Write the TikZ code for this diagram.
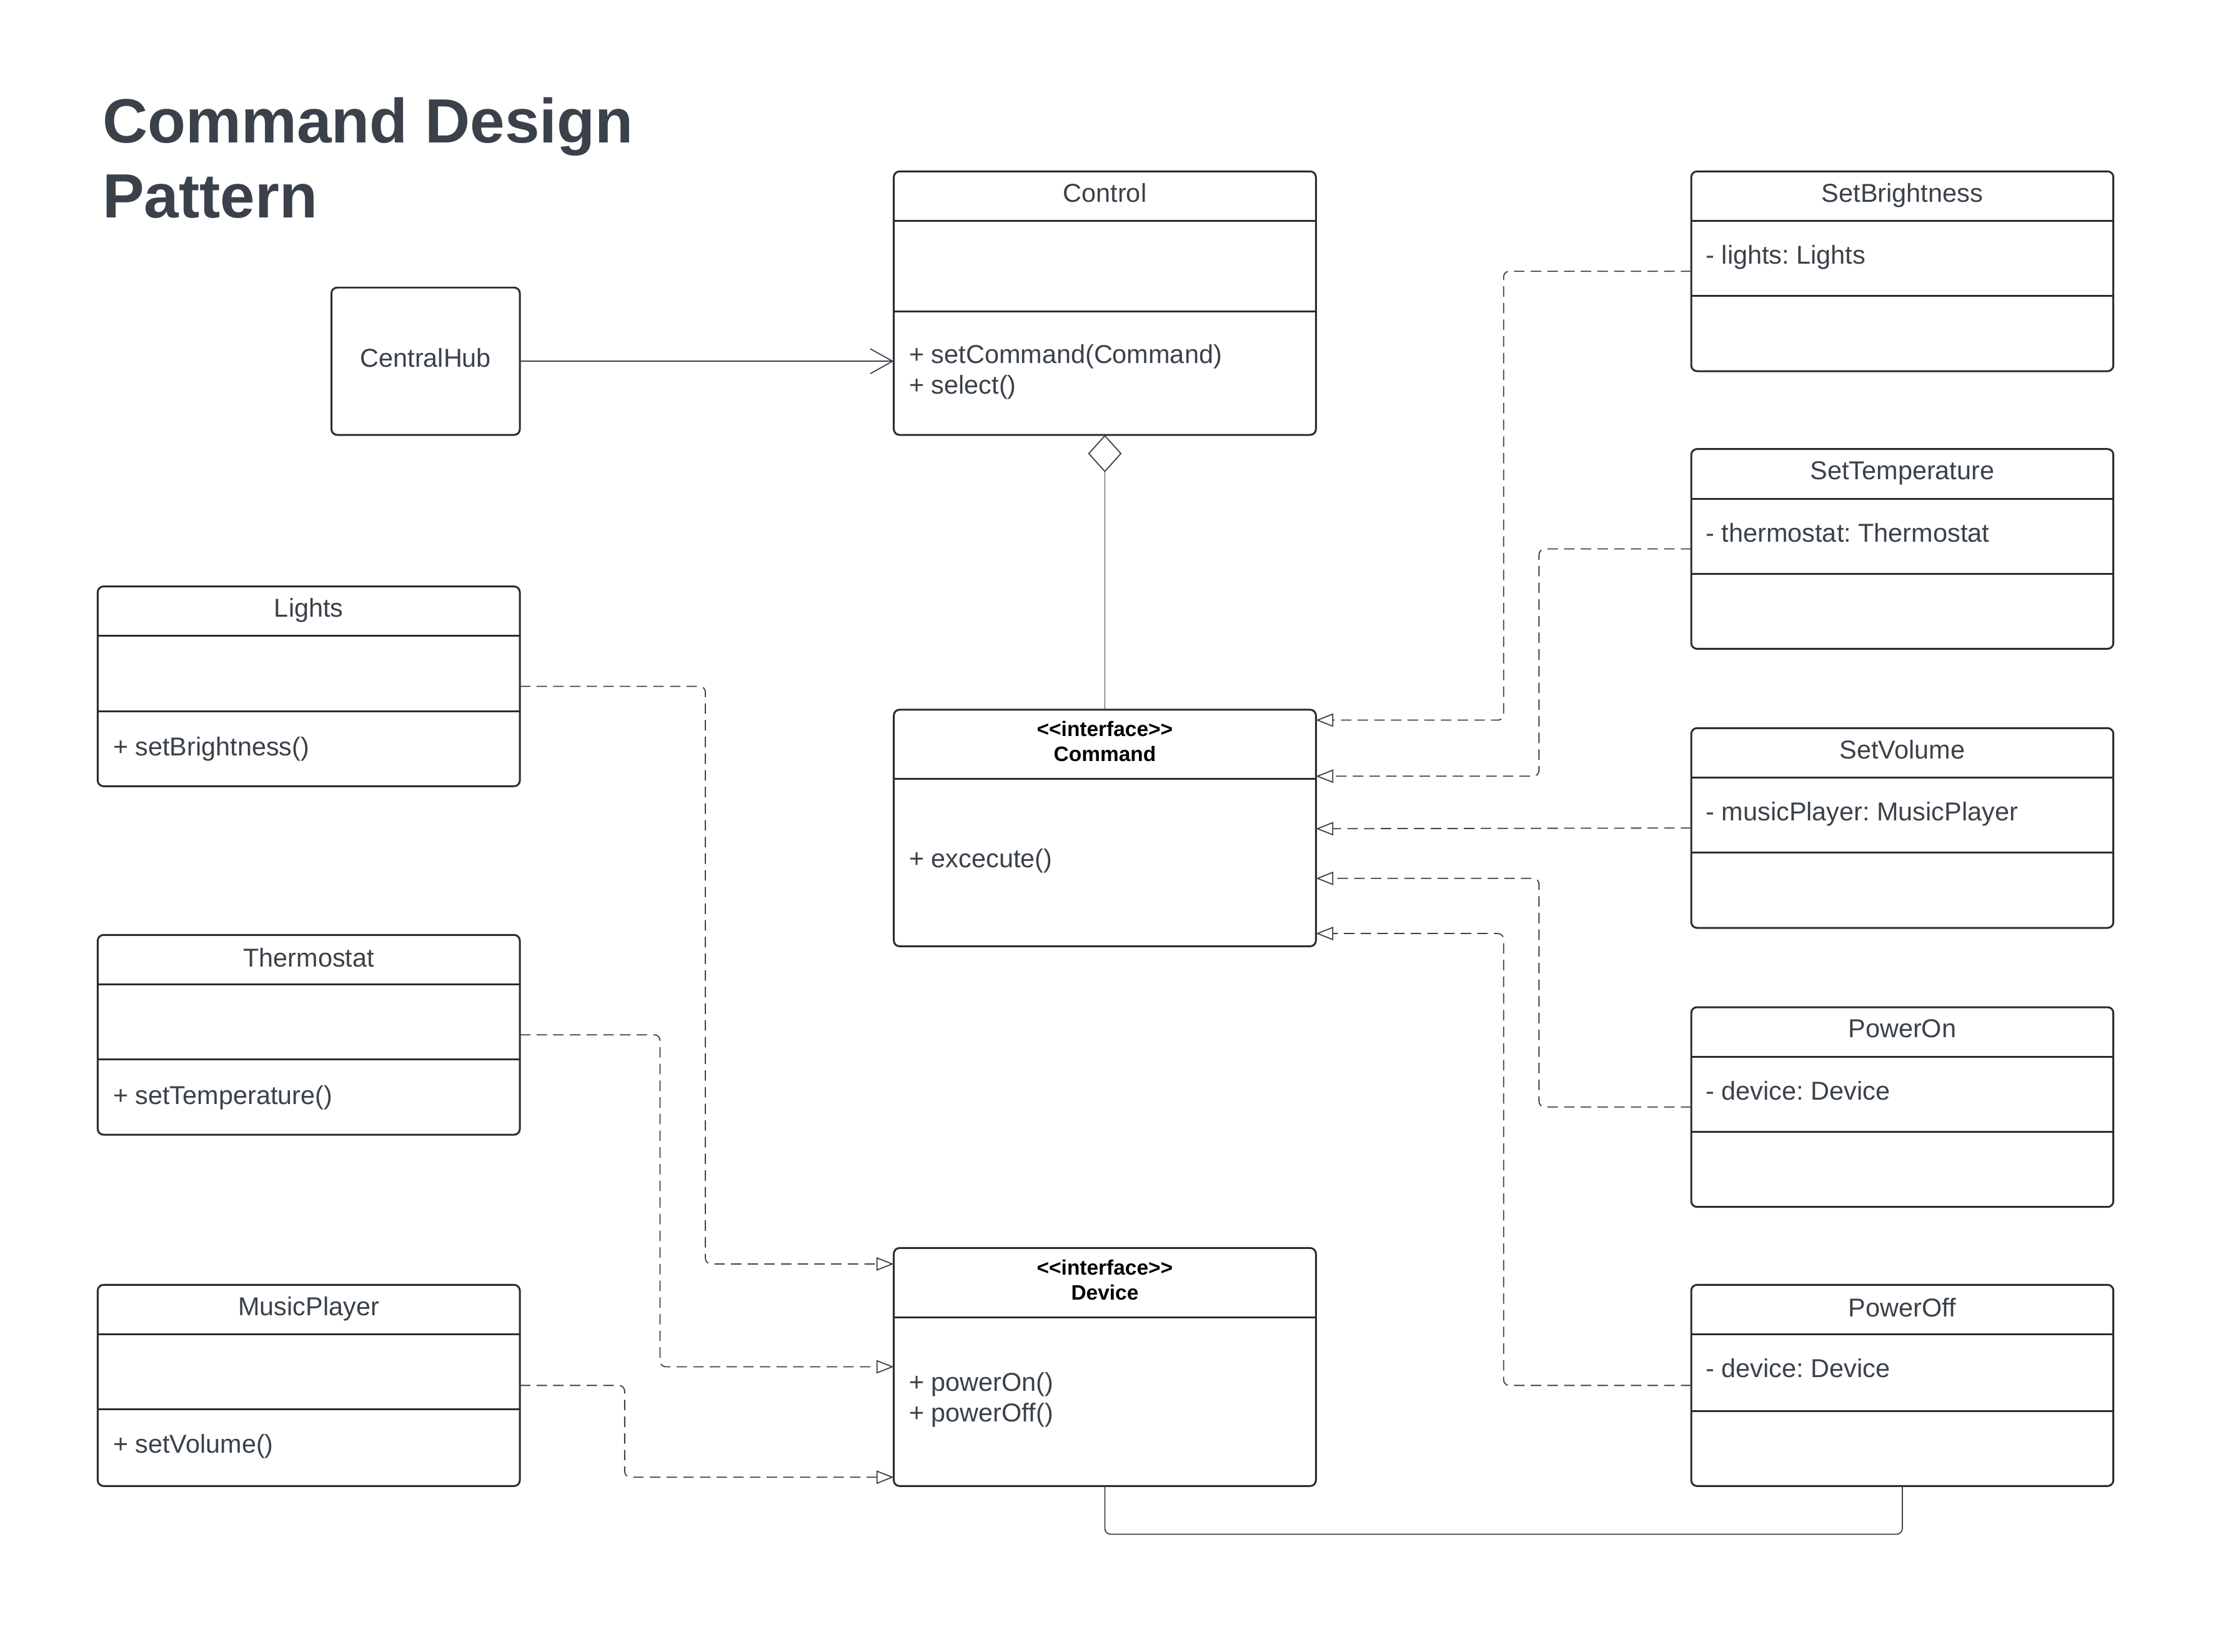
\documentclass[tikz,border=0pt]{standalone}
\usepackage{fontspec}
\setmainfont{Liberation Sans}
\usetikzlibrary{arrows.meta,calc,fit}
\definecolor{txt}{HTML}{3A414A}
\definecolor{brd}{HTML}{282C33}
\definecolor{lnk}{HTML}{3A414A}
\newcommand{\umlcls}[5]{\node[cls, fit={(#2,#3) (#4,#5)}] (#1) {};}
\newcommand{\umldiv}[2]{\draw[divl] (#1.west |- 0,#2) -- (#1.east |- 0,#2);}
\newcommand{\ifcname}{{<}{<}interface{>}{>}}
\frenchspacing
\begin{document}
\begin{tikzpicture}[x=0.02cm, y=-0.02cm,
  cls/.style={draw=brd, line width=0.75pt, rounded corners=2.3pt, inner sep=0pt, outer sep=0pt, fill=white},
  divl/.style={draw=brd, line width=0.75pt},
  titlef/.style={font=\bfseries\fontsize{25.1}{30}\selectfont, text=txt, inner sep=0pt, anchor=base west},
  ttl/.style={font=\fontsize{10.4}{12.5}\selectfont, text=txt, anchor=base, inner sep=0pt},
  mem/.style={font=\fontsize{10.4}{12.5}\selectfont, text=txt, anchor=base west, inner sep=0pt},
  ifc/.style={font=\bfseries\fontsize{8.4}{10}\selectfont, text=black, anchor=base, inner sep=0pt},
  real/.style={draw=lnk, line width=0.45pt, dash pattern=on 4.2pt off 2.5pt, rounded corners=2.3pt, -{Triangle[open, length=7pt, width=5.4pt]}},
  assoc/.style={draw=lnk, line width=0.45pt, -{Straight Barb[length=9pt, width=10pt]}},
  agg/.style={draw=lnk, line width=0.45pt, {Diamond[open, length=15pt, width=13.5pt]}-},
  link/.style={draw=lnk, line width=0.45pt, rounded corners=2.3pt}
]
\useasboundingbox[fill=white] (0,0) rectangle (1568,1166);

% title
\node[titlef] (title1) at (72,100.6) {Command Design};
\node[titlef] (title2) at (72,153.5) {Pattern};

% classes
\umlcls{hub}{234}{203}{367}{307}
\node[ttl] (hub-t) at (300.5,259) {CentralHub};

\umlcls{ctrl}{631}{121}{929}{307}
\umldiv{ctrl}{156}\umldiv{ctrl}{220}
\node[ttl] (ctrl-t) at (780,142.5) {Control};
\node[mem] (ctrl-m1) at (641.5,256.6) {+ setCommand(Command)};
\node[mem] (ctrl-m2) at (641.5,277.9) {+ select()};

\umlcls{cmd}{631}{501}{929}{668}
\umldiv{cmd}{550}
\node[ifc] (cmd-s) at (780,519.8) {\ifcname};
\node[ifc] (cmd-t) at (780,537.4) {Command};
\node[mem] (cmd-m1) at (641.5,612.4) {+ excecute()};

\umlcls{dev}{631}{881}{929}{1049}
\umldiv{dev}{930}
\node[ifc] (dev-s) at (780,899.9) {\ifcname};
\node[ifc] (dev-t) at (780,917.5) {Device};
\node[mem] (dev-m1) at (641.5,982.2) {+ powerOn()};
\node[mem] (dev-m2) at (641.5,1003.5) {+ powerOff()};

\umlcls{lights}{69}{414}{367}{555}
\umldiv{lights}{449}\umldiv{lights}{502}
\node[ttl] (lights-t) at (218,435.5) {Lights};
\node[mem] (lights-m1) at (79.5,533.5) {+ setBrightness()};

\umlcls{thermo}{69}{660}{367}{801}
\umldiv{thermo}{695}\umldiv{thermo}{748}
\node[ttl] (thermo-t) at (218,682.5) {Thermostat};
\node[mem] (thermo-m1) at (79.5,779.5) {+ setTemperature()};

\umlcls{music}{69}{907}{367}{1049}
\umldiv{music}{942}\umldiv{music}{995}
\node[ttl] (music-t) at (218,928.5) {MusicPlayer};
\node[mem] (music-m1) at (79.5,1025.5) {+ setVolume()};

\umlcls{sb}{1194}{121}{1492}{262}
\umldiv{sb}{156}\umldiv{sb}{209}
\node[ttl] (sb-t) at (1343,142.5) {SetBrightness};
\node[mem] (sb-a) at (1204,186.5) {- lights: Lights};

\umlcls{st}{1194}{317}{1492}{458}
\umldiv{st}{352}\umldiv{st}{405}
\node[ttl] (st-t) at (1343,338.5) {SetTemperature};
\node[mem] (st-a) at (1204,382.5) {- thermostat: Thermostat};

\umlcls{sv}{1194}{514}{1492}{655}
\umldiv{sv}{549}\umldiv{sv}{602}
\node[ttl] (sv-t) at (1343,535.5) {SetVolume};
\node[mem] (sv-a) at (1204,579.5) {- musicPlayer: MusicPlayer};

\umlcls{pon}{1194}{711}{1492}{852}
\umldiv{pon}{746}\umldiv{pon}{799}
\node[ttl] (pon-t) at (1343,732.5) {PowerOn};
\node[mem] (pon-a) at (1204,776.5) {- device: Device};

\umlcls{poff}{1194}{907}{1492}{1049}
\umldiv{poff}{942}\umldiv{poff}{996}
\node[ttl] (poff-t) at (1343,929.5) {PowerOff};
\node[mem] (poff-a) at (1204,972.5) {- device: Device};

% connection points
\coordinate (c1) at ($(cmd.north east)!0.044!(cmd.south east)$);
\coordinate (c2) at ($(cmd.north east)!0.281!(cmd.south east)$);
\coordinate (c3) at ($(cmd.north east)!0.503!(cmd.south east)$);
\coordinate (c4) at ($(cmd.north east)!0.713!(cmd.south east)$);
\coordinate (c5) at ($(cmd.north east)!0.946!(cmd.south east)$);
\coordinate (d1) at ($(dev.north west)!0.067!(dev.south west)$);
\coordinate (d2) at ($(dev.north west)!0.499!(dev.south west)$);
\coordinate (d3) at ($(dev.north west)!0.963!(dev.south west)$);

% connectors
\draw[assoc] (hub.east) -- (ctrl.west |- hub.east);
\draw[agg] (ctrl.south) -- (cmd.north);

\draw[real] (sb.west) -| ($(c1)+(132.5,0)$) -- (c1);
\draw[real] (st.west) -| ($(c2)+(157.5,0)$) -- (c2);
\draw[real] (sv.west) -- (c3);
\draw[real] (pon.west) -| ($(c4)+(157.5,0)$) -- (c4);
\draw[real] (poff.west) -| ($(c5)+(132.5,0)$) -- (c5);

\draw[real] (lights.east) -| ($(d1)+(-133,0)$) -- (d1);
\draw[real] (thermo.east) -| ($(d2)+(-165,0)$) -- (d2);
\draw[real] (music.east) -| ($(d3)+(-190,0)$) -- (d3);

\draw[link] (dev.south) -- ++(0,34) -| (poff.south);
\end{tikzpicture}
\end{document}
